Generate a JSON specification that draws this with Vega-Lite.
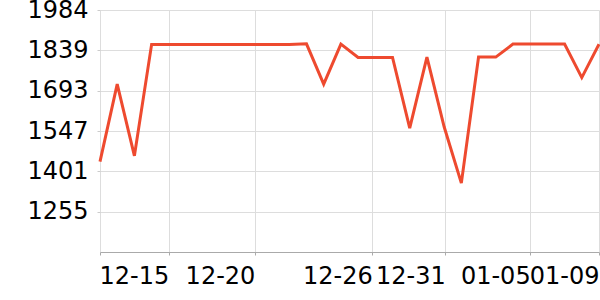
{
  "$schema": "https://vega.github.io/schema/vega-lite/v6.json",
  "width": 499,
  "height": 242,
  "autosize": {"type": "none"},
  "padding": {"left": 100, "top": 10, "right": 1, "bottom": 48},
  "background": "white",
  "config": {
    "view": {"stroke": null},
    "font": "DejaVu Sans",
    "axis": {"labelFont": "DejaVu Sans", "labelFontSize": 24, "labelColor": "#000000", "gridColor": "#dddddd", "gridWidth": 1}
  },
  "data": {
    "values": [
      {"date": "2023-12-11T00:00:00", "value": 1436},
      {"date": "2023-12-12T00:00:00", "value": 1716},
      {"date": "2023-12-13T00:00:00", "value": 1457},
      {"date": "2023-12-14T00:00:00", "value": 1860},
      {"date": "2023-12-15T00:00:00", "value": 1860},
      {"date": "2023-12-16T00:00:00", "value": 1860},
      {"date": "2023-12-17T00:00:00", "value": 1860},
      {"date": "2023-12-18T00:00:00", "value": 1860},
      {"date": "2023-12-19T00:00:00", "value": 1860},
      {"date": "2023-12-20T00:00:00", "value": 1860},
      {"date": "2023-12-21T00:00:00", "value": 1860},
      {"date": "2023-12-22T00:00:00", "value": 1860},
      {"date": "2023-12-23T00:00:00", "value": 1862},
      {"date": "2023-12-24T00:00:00", "value": 1716},
      {"date": "2023-12-25T00:00:00", "value": 1861},
      {"date": "2023-12-26T00:00:00", "value": 1813},
      {"date": "2023-12-27T00:00:00", "value": 1813},
      {"date": "2023-12-28T00:00:00", "value": 1813},
      {"date": "2023-12-29T00:00:00", "value": 1557},
      {"date": "2023-12-30T00:00:00", "value": 1814},
      {"date": "2023-12-31T00:00:00", "value": 1562},
      {"date": "2024-01-01T00:00:00", "value": 1358},
      {"date": "2024-01-02T00:00:00", "value": 1814},
      {"date": "2024-01-03T00:00:00", "value": 1814},
      {"date": "2024-01-04T00:00:00", "value": 1861},
      {"date": "2024-01-05T00:00:00", "value": 1861},
      {"date": "2024-01-06T00:00:00", "value": 1861},
      {"date": "2024-01-07T00:00:00", "value": 1861},
      {"date": "2024-01-08T00:00:00", "value": 1740},
      {"date": "2024-01-09T00:00:00", "value": 1861}
    ]
  },
  "mark": {"type": "line", "color": "#ee4a2f", "strokeWidth": 3, "clip": false},
  "encoding": {
    "x": {
      "field": "date",
      "type": "temporal",
      "title": null,
      "scale": {"nice": false},
      "axis": {
        "values": [
          {"year": 2023, "month": 12, "date": 11},
          {"year": 2023, "month": 12, "date": 15},
          {"year": 2023, "month": 12, "date": 20},
          {"year": 2023, "month": 12, "date": 26, "hours": 19, "minutes": 40},
          {"year": 2023, "month": 12, "date": 31, "hours": 1, "minutes": 40},
          {"year": 2024, "month": 1, "date": 5},
          {"year": 2024, "month": 1, "date": 9}
        ],
        "labelExpr": "timeFormat(datum.value, '%m-%d') == '12-11' ? '' : timeFormat(datum.value, '%m-%d')",
        "labelAlign": "right",
        "labelFlush": false,
        "labelOverlap": false,
        "labelPadding": 9,
        "tickSize": 3,
        "tickColor": "#aaaaaa",
        "domainColor": "#aaaaaa",
        "grid": true
      }
    },
    "y": {
      "field": "value",
      "type": "quantitative",
      "title": null,
      "scale": {"domain": [1109, 1984.4], "nice": false, "zero": false},
      "axis": {
        "values": [1254.9, 1400.8, 1546.7, 1692.6, 1838.6, 1984.4],
        "format": ".0f",
        "domain": false,
        "tickSize": 3,
        "tickColor": "#cccccc",
        "labelPadding": 9,
        "grid": true
      }
    }
  }
}
